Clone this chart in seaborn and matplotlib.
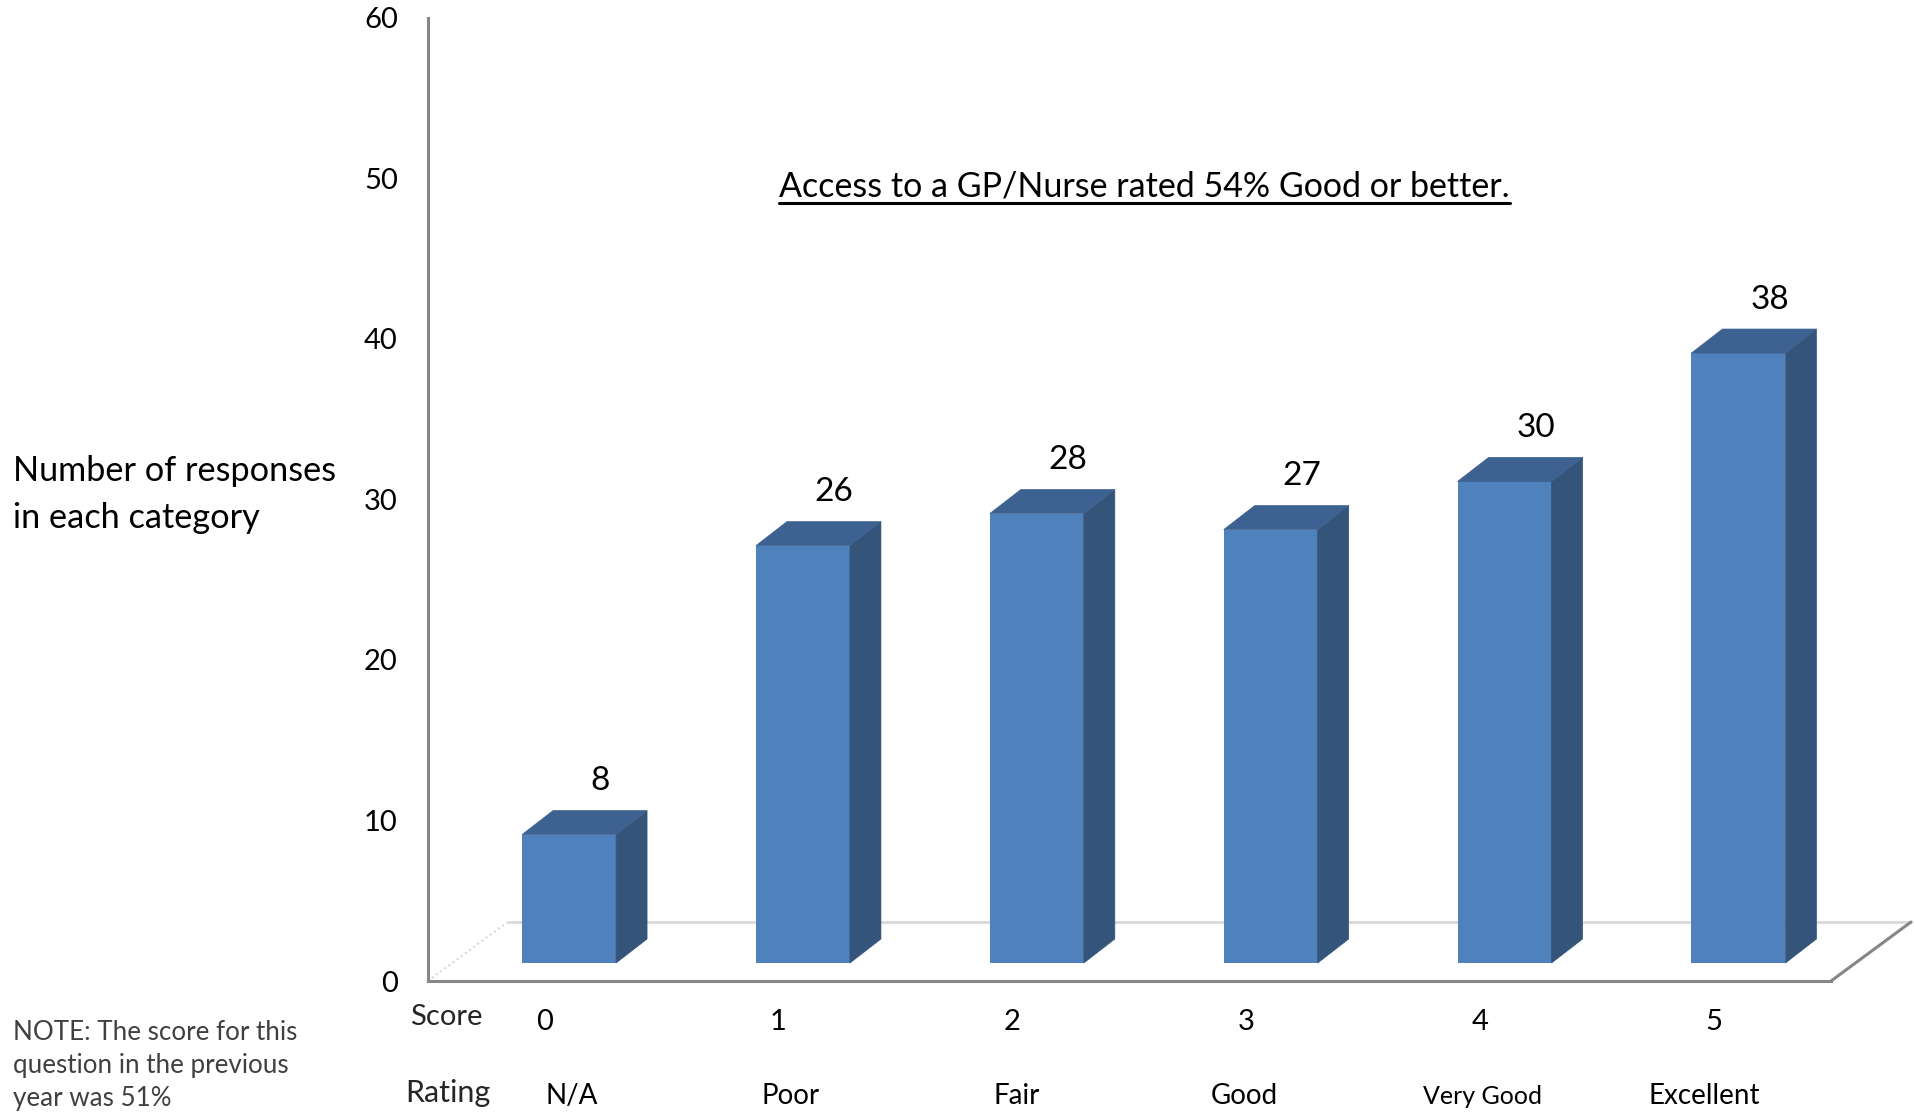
import numpy as np
import pandas as pd
import matplotlib
matplotlib.use("Agg")
import matplotlib.pyplot as plt
from matplotlib.patches import Polygon
from matplotlib.lines import Line2D
from matplotlib.transforms import blended_transform_factory
import seaborn as sns

# ---- data -------------------------------------------------------------
scores = ["0", "1", "2", "3", "4", "5"]
ratings = ["N/A", "Poor", "Fair", "Good", "Very Good", "Excellent"]
responses = [8, 26, 28, 27, 30, 38]
y_ticks = [0, 10, 20, 30, 40, 50, 60]

title_text = "Access to a GP/Nurse rated 54% Good or better."
ylabel_text = "Number of responses\nin each category"
note_text = "NOTE: The score for this\nquestion in the previous\nyear was 51%"

# ---- style ------------------------------------------------------------
FRONT = "#4F81BD"
SIDE = "#34547A"
TOP = "#3D6190"
AXIS_GREY = "#868686"
FLOOR_GREY = "#D9D9D9"

# small horizontal nudges (px) for the rating captions under each category
rating_nudge_px = [27, 12, 4, -2, 2, -10]
rating_sizes = [20, 20, 20, 20, 18, 20]

sns.set_theme(style="white")
plt.rcParams["font.family"] = ["Lato", "DejaVu Sans"]

W, H, DPI = 1914, 1115, 100
fig = plt.figure(figsize=(W / DPI, H / DPI), dpi=DPI)
fig.patch.set_facecolor("white")


def px_rect(left, top, right, bottom):
    return [left / W, 1 - bottom / H, (right - left) / W, (bottom - top) / H]


frame_rect = px_rect(427.7, 17.9, 1831, 981)
n = len(scores)

# ---- frame axes: value axis, category axis and floor -----------------
ax_frame = fig.add_axes(frame_rect)
ax_frame.set_xlim(-0.5, n - 0.5)
ax_frame.set_ylim(y_ticks[0], y_ticks[-1])
ax_frame.patch.set_alpha(0)
for side in ["top", "right"]:
    ax_frame.spines[side].set_visible(False)
for side in ["left", "bottom"]:
    ax_frame.spines[side].set_color(AXIS_GREY)
    ax_frame.spines[side].set_linewidth(2.2)
ax_frame.set_yticks(y_ticks)
ax_frame.set_xticks(np.arange(-0.5, n))
ax_frame.set_xticklabels([])
ax_frame.tick_params(axis="y", direction="out", length=6.5, width=1.5,
                     color=AXIS_GREY, pad=15, labelsize=21, labelcolor="black")
ax_frame.tick_params(axis="x", direction="out", length=7, width=1.5,
                     color=AXIS_GREY)

bbox = ax_frame.get_position()
frame_w_px = bbox.width * W
frame_h_px = bbox.height * H
floor_dx = 80 / frame_w_px
floor_dy = 59 / frame_h_px
ta = ax_frame.transAxes
ax_frame.add_line(Line2D([floor_dx, 1 + floor_dx], [floor_dy, floor_dy],
                         transform=ta, color=FLOOR_GREY, lw=2, clip_on=False, zorder=1))
ax_frame.add_line(Line2D([1, 1 + floor_dx], [0, floor_dy],
                         transform=ta, color=AXIS_GREY, lw=2.2, clip_on=False, zorder=2))
ax_frame.add_line(Line2D([0, floor_dx], [0, floor_dy],
                         transform=ta, color="#D4D4D4", lw=1.4, ls=":", clip_on=False, zorder=1))

# ---- bar axes ---------------------------------------------------------
px_per_x = frame_w_px / n
px_per_y = frame_h_px / (y_ticks[-1] - y_ticks[0])
base_lift = 18 / px_per_y
shift = 24.4 / px_per_x

ax = fig.add_axes(frame_rect)
ax.patch.set_alpha(0)

df = pd.DataFrame({"score": scores, "responses": responses})
sns.barplot(data=df, x="score", y="responses", order=scores, width=0.402,
            color=FRONT, saturation=1, linewidth=0, ax=ax, zorder=3)
ax.set_xlim(-0.5 - shift, n - 0.5 - shift)
ax.set_ylim(-base_lift, y_ticks[-1] - base_lift)
ax.axis("off")

dx = 31 / px_per_x
dy = 24 / px_per_y
for patch, value in zip(ax.patches, responses):
    x0 = patch.get_x()
    w = patch.get_width()
    h = patch.get_height()
    x1 = x0 + w
    side_face = Polygon([(x1, 0), (x1 + dx, dy), (x1 + dx, h + dy), (x1, h)],
                        closed=True, facecolor=SIDE, edgecolor=SIDE, lw=0.5,
                        zorder=3, clip_on=False)
    top_face = Polygon([(x0, h), (x0 + dx, h + dy), (x1 + dx, h + dy), (x1, h)],
                       closed=True, facecolor=TOP, edgecolor=TOP, lw=0.5,
                       zorder=3, clip_on=False)
    ax.add_patch(side_face)
    ax.add_patch(top_face)
    ax.annotate(str(value), xy=(x0 + w / 2 + dx, h + dy), xytext=(0, 21),
                textcoords="offset points", ha="center", va="center",
                fontsize=24, color="black", annotation_clip=False)

# ---- category labels ------------------------------------------------
cat_tf = blended_transform_factory(ax_frame.transData, fig.transFigure)
for i, (s, r) in enumerate(zip(scores, ratings)):
    ax_frame.text(i, 1 - 1022 / H, s, transform=cat_tf, ha="center", va="center",
                  fontsize=21, color="black")
    ax_frame.text(i + rating_nudge_px[i] / px_per_x, 1 - 1096 / H, r,
                  transform=cat_tf, ha="center", va="center",
                  fontsize=rating_sizes[i], color="black")

fig.text(446 / W, 1 - 1016.6 / H, "Score", ha="center", va="center", fontsize=21)
fig.text(448 / W, 1 - 1093 / H, "Rating", ha="center", va="center", fontsize=22)

# ---- titles and notes -------------------------------------------------
title = fig.text(1144.4 / W, 1 - 196.5 / H, title_text, ha="center",
                 va="baseline", fontsize=24.5, color="black")
fig.text(13.4 / W, 1 - 494.5 / H, ylabel_text, ha="left", va="center",
         fontsize=24.7, linespacing=1.58, color="black")
fig.text(13 / W, 1 - 1065.5 / H, note_text, ha="left", va="center",
         fontsize=18.7, linespacing=1.40, color="#404040")

fig.canvas.draw()
tb = title.get_window_extent()
uy = (H - 202.5) / H
fig.add_artist(Line2D([tb.x0 / W, tb.x1 / W], [uy, uy], transform=fig.transFigure,
                      color="black", lw=2.2))

fig.savefig("out.png", dpi=DPI, facecolor="white")
